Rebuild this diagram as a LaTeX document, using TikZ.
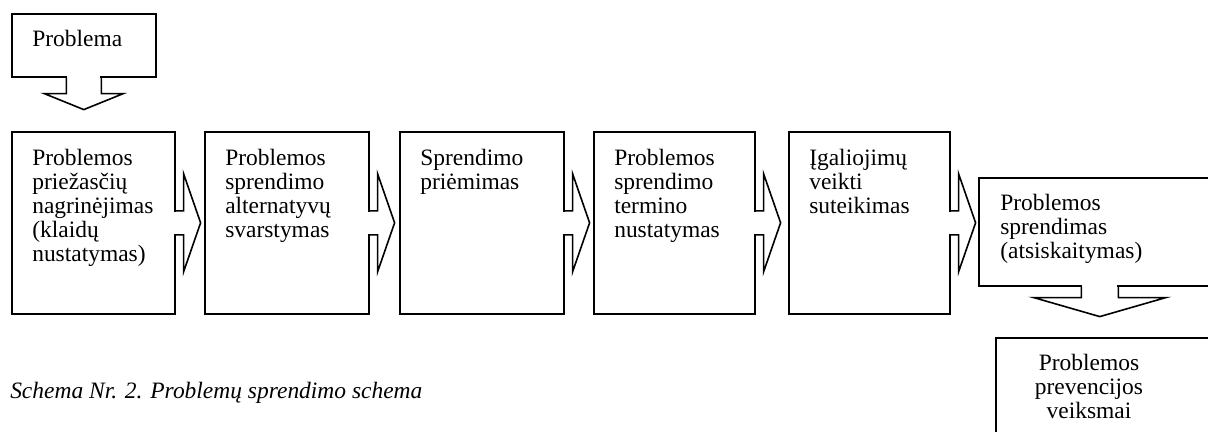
\documentclass[tikz,border=0pt]{standalone}
\usepackage{fontspec}
\setmainfont{Liberation Serif}
\usetikzlibrary{positioning}
\newcommand{\px}{0.75pt}
\tikzset {
  % frame of one step
  stepbox/.style = {draw, line width=1.2pt, anchor=north west, inner sep=0pt},
  % text written in a step
  steptext/.style = {anchor=north west, align=left, inner sep=0pt,
    font=\fontsize{17.6}{18}\selectfont},
  % outline of the arrow of a callout
  callout/.style = {line width=1.2pt, line join=miter},
}
% arrow on the right side of a step
\newcommand{\calloutright}[1]{
  \fill[white] (#1.east) ++(-1.5,-11) rectangle ++(3,22);
  \draw[callout] (#1.east) ++(0,-12) -- ++(8,0) -- ++(0,-37) -- ++(17,49)
    -- ++(-17,49) -- ++(0,-37) -- ++(-8,0);
}
% arrow under a step: node, stem half width, stem length, head half width, head length
\newcommand{\calloutdown}[5]{
  \fill[white] (#1.south) ++(-#2+1,-1.5) rectangle ++(2*#2-2,3);
  \draw[callout] (#1.south) ++(-#2,0) -- ++(0,#3) -- ++(#2-#4,0) -- ++(#4,#5)
    -- ++(#4,-#5) -- ++(#2-#4,0) -- ++(0,-#3);
}

\begin{document}
\begin{tikzpicture}[x=0.75pt, y=-0.75pt]
  \useasboundingbox (0,0) rectangle (1208,432);
  \clip (0,0) rectangle (1208,432);

  \node[stepbox, minimum width=144*\px, minimum height=63*\px] (problem) at (11,13) {};
  \node[steptext] (problemtxt) at (32,30) {Problema};
  \calloutdown{problem}{17.5}{16}{39.5}{16}

  \node[stepbox, minimum width=163*\px, minimum height=182*\px] (cause) at (11,131) {};
  \node[steptext] (causetxt) at (32,149) {Problemos\\priežasčių\\nagrinėjimas\\(klaidų\\nustatymas)};
  \calloutright{cause}

  \node[stepbox, minimum width=164*\px, minimum height=182*\px] (altern) at (204,131) {};
  \node[steptext] (alterntxt) at (225,149) {Problemos\\sprendimo\\alternatyvų\\svarstymas};
  \calloutright{altern}

  \node[stepbox, minimum width=164*\px, minimum height=182*\px] (decide) at (399,131) {};
  \node[steptext] (decidetxt) at (420,149) {Sprendimo\\priėmimas};
  \calloutright{decide}

  \node[stepbox, minimum width=161*\px, minimum height=182*\px] (term) at (593,131) {};
  \node[steptext] (termtxt) at (614,149) {Problemos\\sprendimo\\termino\\nustatymas};
  \calloutright{term}

  \node[stepbox, minimum width=161*\px, minimum height=182*\px] (power) at (788,131) {};
  \node[steptext] (powertxt) at (809,149) {Įgaliojimų\\veikti\\suteikimas};
  \calloutright{power}

  \node[stepbox, minimum width=242*\px, minimum height=108*\px] (solve) at (978,177) {};
  \node[steptext] (solvetxt) at (1000,194) {Problemos\\sprendimas\\(atsiskaitymas)};
  \calloutdown{solve}{18.5}{11}{66}{19}

  \node[stepbox, minimum width=250*\px, minimum height=130*\px] (prevent) at (995,337) {};
  \node[steptext, anchor=north, align=center] (preventtxt) at (1089,354) {Problemos\\prevencijos\\veiksmai};

  \node[steptext, anchor=base west, font=\fontsize{17.6}{18}\selectfont\itshape] (caption) at (10,398) {Schema Nr. 2. Problemų sprendimo schema};
\end{tikzpicture}
\end{document}
